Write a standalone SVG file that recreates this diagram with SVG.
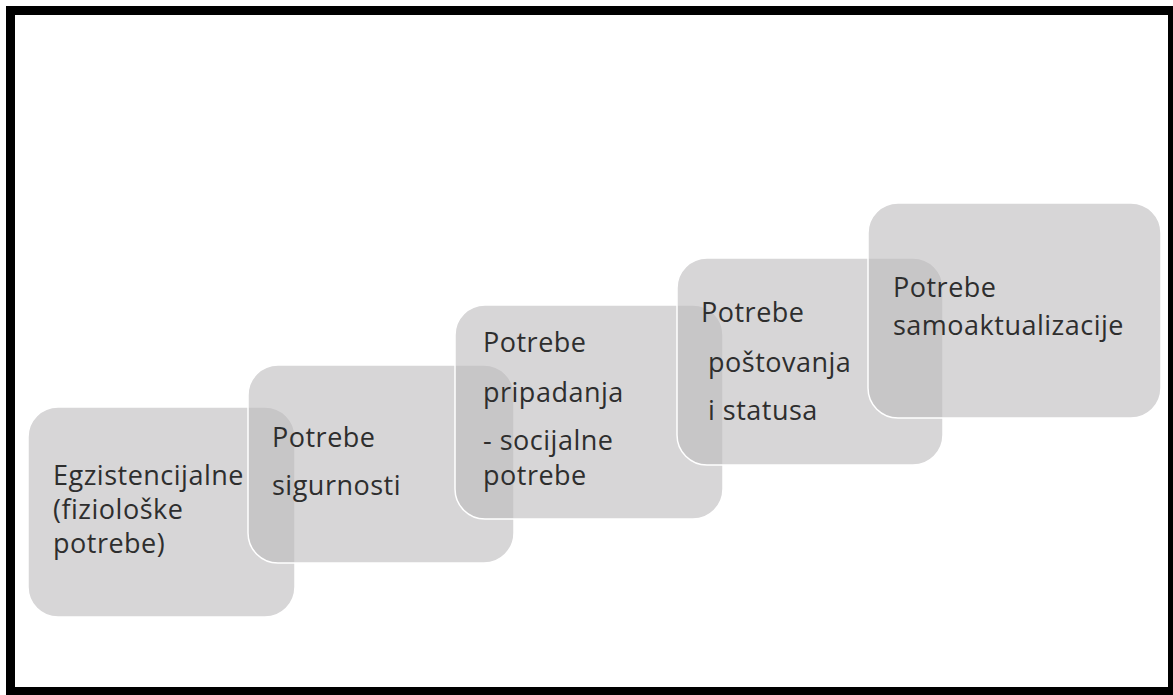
<svg xmlns="http://www.w3.org/2000/svg" width="1173" height="695" viewBox="0 0 1173 695">
<style>
.box{fill:#bdbbbc;fill-opacity:0.6;stroke:#ffffff;stroke-width:1.5}
.t{font-family:"Open Sans","Noto Sans",sans-serif;font-size:27px;letter-spacing:0.5px;fill:#2e2e2e}
</style>
<rect x="0" y="0" width="1173" height="695" fill="#ffffff"/>
<rect x="10.5" y="10.5" width="1162" height="681" fill="none" stroke="#000000" stroke-width="9"/>
<g id="connectors"></g>
<g id="node1">
<rect class="box" x="28" y="407" width="267" height="210" rx="30"/>
<text class="t" x="53" y="485">Egzistencijalne</text>
<text class="t" x="53" y="519">(fiziološke</text>
<text class="t" x="53" y="553">potrebe)</text>
</g>
<g id="node2">
<rect class="box" x="248" y="365" width="266" height="198" rx="30"/>
<text class="t" x="272" y="447">Potrebe</text>
<text class="t" x="272" y="495">sigurnosti</text>
</g>
<g id="node3">
<rect class="box" x="455" y="305" width="268" height="214" rx="30"/>
<text class="t" x="483" y="352">Potrebe</text>
<text class="t" x="483" y="402">pripadanja</text>
<text class="t" x="483" y="450">- socijalne</text>
<text class="t" x="483" y="485">potrebe</text>
</g>
<g id="node4">
<rect class="box" x="677" y="258" width="266" height="207" rx="30"/>
<text class="t" x="701" y="322">Potrebe</text>
<text class="t" x="708" y="372">poštovanja</text>
<text class="t" x="708" y="420">i statusa</text>
</g>
<g id="node5">
<rect class="box" x="868" y="203" width="293" height="215" rx="30"/>
<text class="t" x="893" y="297">Potrebe</text>
<text class="t" x="893" y="335">samoaktualizacije</text>
</g>
</svg>
